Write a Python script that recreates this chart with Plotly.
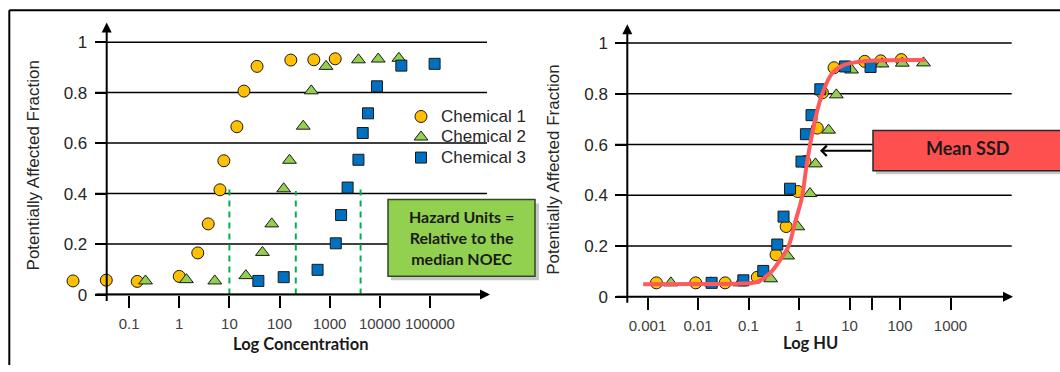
import plotly.graph_objects as go

W, H = 1060, 372

# ---------------- Left chart: raw concentrations ----------------
conc_ticks = [0.1, 1, 10, 100, 1000, 10000, 100000]
conc_tick_text = ["0.1", "1", "10", "100", "1000", "10000", "100000"]
pf_ticks = [0, 0.2, 0.4, 0.6, 0.8, 1]
pf_tick_text = ["0", "0.2", "0.4", "0.6", "0.8", "1"]

conc1 = [0.0076, 0.035, 0.145, 1.0, 2.34, 3.78, 6.48, 7.75, 14.1, 19.5, 35.6, 168, 483, 1291]
pf1 = [0.054, 0.057, 0.052, 0.072, 0.165, 0.28, 0.415, 0.53, 0.665, 0.806, 0.904, 0.929, 0.93, 0.934]
conc2 = [0.212, 1.39, 5.11, 21.3, 45.6, 70.0, 121, 158, 297, 430, 847, 3750, 9310, 24000]
pf2 = [0.054, 0.059, 0.054, 0.075, 0.167, 0.28, 0.419, 0.532, 0.667, 0.807, 0.904, 0.93, 0.933, 0.936]
conc3 = [37.8, 121, 574, 1325, 1690, 2280, 3750, 4560, 5820, 8790, 26900, 124000]
pf3 = [0.054, 0.069, 0.098, 0.203, 0.315, 0.424, 0.534, 0.64, 0.718, 0.825, 0.907, 0.914]

median_noec = [10, 211, 4140]
noec_line_top = [0.42, 0.41, 0.42]

# ---------------- Right chart: hazard units ----------------
hu_ticks = [0.001, 0.01, 0.1, 1, 10, 27.6, 100, 1000]
hu_tick_text = ["0.001", "0.01", "0.1", "1", "10", "", "100", "1000"]

hu1 = [0.0015, 0.009, 0.0345, 0.149, 0.351, 0.557, 0.944, 1.31, 2.30, 2.91, 4.94, 20.0, 41.6, 106]
hu_pf1 = [0.055, 0.055, 0.055, 0.077, 0.166, 0.277, 0.415, 0.533, 0.665, 0.804, 0.903, 0.928, 0.930, 0.935]
hu2 = [0.0029, 0.018, 0.068, 0.275, 0.594, 0.944, 1.65, 2.12, 3.85, 5.48, 11.0, 44.0, 111, 292]
hu_pf2 = [0.055, 0.055, 0.055, 0.071, 0.161, 0.276, 0.407, 0.524, 0.657, 0.796, 0.894, 0.918, 0.921, 0.922]
hu3 = [0.0186, 0.079, 0.196, 0.371, 0.494, 0.664, 1.12, 1.37, 1.77, 2.64, 8.17, 26.1]
hu_pf3 = [0.055, 0.065, 0.102, 0.206, 0.316, 0.426, 0.533, 0.641, 0.716, 0.818, 0.908, 0.906]

ssd_hu = [0.00082, 0.0121, 0.073, 0.153, 0.275, 0.428, 0.617, 0.828, 1.15, 1.37, 1.65,
          2.09, 2.87, 4.58, 7.9, 16.4, 318]
ssd_pf = [0.049, 0.050, 0.052, 0.060, 0.096, 0.147, 0.198, 0.29, 0.394, 0.50, 0.598,
          0.70, 0.799, 0.882, 0.914, 0.927, 0.933]

series_names = ["Chemical 1", "Chemical 2", "Chemical 3"]
colors = ["#FFC000", "#92D050", "#0070C0"]
symbols = ["circle", "triangle-up", "square"]
sizes = [12, 12, 11]


def px(x):
    return x / W


def py(y):
    return 1 - y / H


fig = go.Figure()

# median NOEC dashed lines
for v, top in zip(median_noec, noec_line_top):
    fig.add_trace(go.Scatter(x=[v, v], y=[0, top], mode="lines", showlegend=False,
                             line=dict(color="#00B050", width=2, dash="6px,5px"),
                             xaxis="x", yaxis="y", hoverinfo="skip"))

left_sets = [(conc1, pf1), (conc2, pf2), (conc3, pf3)]
for i, (xs, ys) in enumerate(left_sets):
    fig.add_trace(go.Scatter(
        x=xs, y=ys, mode="markers",
        name="<span style='font-size:17px'>" + series_names[i] + "</span>",
        xaxis="x", yaxis="y", cliponaxis=False,
        marker=dict(symbol=symbols[i], size=sizes[i], color=colors[i],
                    line=dict(color="#1a1a1a", width=1))))

right_sets = [(hu1, hu_pf1), (hu2, hu_pf2), (hu3, hu_pf3)]
for i, (xs, ys) in enumerate(right_sets):
    fig.add_trace(go.Scatter(
        x=xs, y=ys, mode="markers", name=series_names[i], xaxis="x2", yaxis="y2",
        cliponaxis=False, showlegend=False,
        marker=dict(symbol=symbols[i], size=sizes[i], color=colors[i],
                    line=dict(color="#1a1a1a", width=1))))

# mean SSD curve (drawn on top of the points)
fig.add_trace(go.Scatter(x=ssd_hu, y=ssd_pf, mode="lines", showlegend=False,
                         xaxis="x2", yaxis="y2", cliponaxis=False,
                         line=dict(color="#FF5A5A", width=4, shape="spline", smoothing=1.0)))

tickfont_x = dict(family="Liberation Sans", size=15, color="#404040")
tickfont_y = dict(family="Liberation Sans", size=17, color="#262626")

# left axes: 0 at y=302.7px, 1 at 43.3px ; x: 100 at 279.5px, 50.13 px/decade
y_left_top = (302.7 - 23) / 259.4
y_right_top = (305 - 25) / 260.7
left_x0 = 55.0
x_left_min = 2 + (left_x0 - 279.53) / 50.13
x_left_max = 2 + (487 - 279.53) / 50.13

fig.update_layout(
    width=W, height=H, margin=dict(l=0, r=0, t=0, b=0), autosize=False,
    paper_bgcolor="white", plot_bgcolor="rgba(0,0,0,0)",
    font=dict(family="Liberation Sans", color="#262626"),
    xaxis=dict(domain=[px(left_x0), px(487)], type="log", range=[x_left_min, x_left_max],
               tickvals=conc_ticks, ticktext=conc_tick_text, ticks="outside",
               ticklen=12, tickwidth=1.5, tickcolor="#000", showgrid=False,
               zeroline=False, showline=False, tickfont=tickfont_x, anchor="y",
               ticklabelstandoff=3),
    yaxis=dict(domain=[py(302.7), py(23)], range=[0, y_left_top], tickvals=pf_ticks,
               ticktext=pf_tick_text, anchor="free", position=px(106.7),
               ticks="outside", ticklen=12, tickwidth=1.5, tickcolor="#000",
               showgrid=False, zeroline=False,
               showline=False, tickfont=tickfont_y, ticklabelstandoff=4),
    xaxis2=dict(domain=[px(615), px(1011.7)], type="log", range=[-3.644, 4.212],
                tickvals=hu_ticks, ticktext=hu_tick_text, ticks="outside",
                ticklen=12, tickwidth=1.5, tickcolor="#000", showgrid=False,
                zeroline=False, showline=False, tickfont=tickfont_x, anchor="y2",
                ticklabelstandoff=3),
    yaxis2=dict(domain=[py(305), py(25)], range=[0, y_right_top], tickvals=pf_ticks,
                ticktext=pf_tick_text, anchor="free", position=px(627.3),
                ticks="outside", ticklen=12, tickwidth=1.5, tickcolor="#000",
                showgrid=False, zeroline=False,
                showline=False, tickfont=tickfont_y, ticklabelstandoff=4),
    legend=dict(x=px(401), y=py(104), xanchor="left", yanchor="top",
                bgcolor="rgba(0,0,0,0)", borderwidth=0, tracegroupgap=0,
                font=dict(family="Liberation Sans", size=13.5, color="#262626")),
    showlegend=True,
)

shapes = []
# horizontal gridlines, from the tick arrays
for t in pf_ticks:
    shapes.append(dict(type="line", xref="paper", yref="y", x0=px(95), x1=px(487), y0=t, y1=t,
                       line=dict(color="#000", width=1.5), layer="below"))
    shapes.append(dict(type="line", xref="paper", yref="y2", x0=px(615), x1=px(1011.7), y0=t, y1=t,
                       line=dict(color="#000", width=1.5), layer="below"))
shapes += [
    # outer frame (top and left edges)
    dict(type="line", xref="paper", yref="paper", x0=px(9.3), x1=px(1062), y0=py(10.6), y1=py(10.6),
         line=dict(color="#000", width=2)),
    dict(type="line", xref="paper", yref="paper", x0=px(9.3), x1=px(9.3), y0=py(10.6), y1=py(375),
         line=dict(color="#000", width=2)),
    # green box shadow + box
    dict(type="rect", xref="paper", yref="paper", x0=px(391), x1=px(539), y0=py(209), y1=py(288),
         fillcolor="rgba(0,0,0,0.22)", line=dict(width=0), layer="above"),
    dict(type="rect", xref="paper", yref="paper", x0=px(388), x1=px(535), y0=py(205), y1=py(284),
         fillcolor="#92D050", line=dict(color="#2E4A1E", width=1.5), layer="above"),
    # mean SSD shadow + box
    dict(type="rect", xref="paper", yref="paper", x0=px(876), x1=px(1075), y0=py(137), y1=py(179),
         fillcolor="rgba(0,0,0,0.22)", line=dict(width=0), layer="above"),
    dict(type="rect", xref="paper", yref="paper", x0=px(873), x1=px(1070), y0=py(134), y1=py(175.5),
         fillcolor="#FF5050", line=dict(color="#262626", width=1.5), layer="above"),
]
fig.update_layout(shapes=shapes)

bold_font = "Lato"
C = dict(xanchor="center", yanchor="middle", xref="paper", yref="paper", showarrow=False)
annotations = [
    # axis arrows
    dict(x=px(490), y=py(302.7), xref="paper", yref="paper", text="", showarrow=True,
         ax=-395, ay=0, arrowhead=2, arrowsize=1, arrowwidth=2, arrowcolor="#000", standoff=0),
    dict(x=px(106.7), y=py(23), xref="paper", yref="paper", text="", showarrow=True,
         ax=0, ay=280, arrowhead=2, arrowsize=1, arrowwidth=2, arrowcolor="#000", standoff=0),
    dict(x=px(1013), y=py(305), xref="paper", yref="paper", text="", showarrow=True,
         ax=-398, ay=0, arrowhead=2, arrowsize=1, arrowwidth=2, arrowcolor="#000", standoff=0),
    dict(x=px(627.3), y=py(25), xref="paper", yref="paper", text="", showarrow=True,
         ax=0, ay=280, arrowhead=2, arrowsize=1, arrowwidth=2, arrowcolor="#000", standoff=0),
    # axis titles
    dict(C, x=px(33), y=py(170), text="Potentially Affected Fraction", textangle=-90,
         font=dict(family="Liberation Sans", size=17, color="#262626")),
    dict(C, x=px(553.5), y=py(175), text="Potentially Affected Fraction", textangle=-90,
         font=dict(family="Liberation Sans", size=17, color="#262626")),
    dict(C, x=px(300.5), y=py(353.5), text="<b>Log Concentration</b>",
         font=dict(family=bold_font, size=16.5, color="#1a1a1a")),
    dict(C, x=px(810), y=py(352.5), text="<b>Log HU</b>",
         font=dict(family=bold_font, size=16.5, color="#1a1a1a")),
    # box texts
    dict(C, x=px(461.5), y=py(244.5),
         text="<b>Hazard Units =<br>Relative to the<br>median NOEC</b>", align="center",
         font=dict(family=bold_font, size=16, color="#1a1a1a")),
    dict(C, x=px(967.5), y=py(152), text="<b>Mean SSD</b>",
         font=dict(family=bold_font, size=18, color="#1a1a1a")),
    # pointer arrow to the mean SSD curve
    dict(x=px(820), y=py(155), xref="paper", yref="paper", text="", showarrow=True,
         ax=53, ay=0, arrowhead=4, arrowsize=1, arrowwidth=2, arrowcolor="#000", standoff=0),
]
fig.update_layout(annotations=annotations)

fig.write_html("out.html", config={"displayModeBar": False},
               post_script="document.body.style.margin='0';document.body.style.overflow='hidden';")
